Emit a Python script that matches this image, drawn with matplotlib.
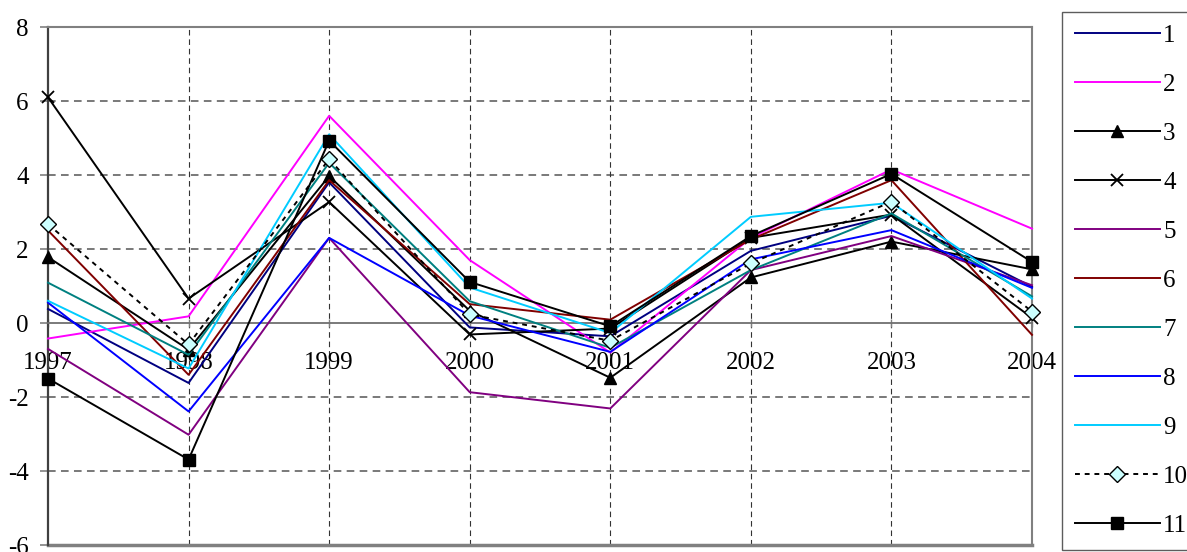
import matplotlib
matplotlib.use("Agg")
import matplotlib.pyplot as plt

# years on the category axis
years = [1997, 1998, 1999, 2000, 2001, 2002, 2003, 2004]

# series values
s1 = [0.38, -1.62, 3.80, -0.12, -0.36, 1.95, 2.90, 0.98]
s2 = [-0.42, 0.18, 5.60, 1.70, -0.80, 2.30, 4.15, 2.55]
s3 = [1.78, -0.72, 3.97, 0.33, -1.48, 1.23, 2.20, 1.45]
s4 = [6.10, 0.66, 3.27, -0.31, -0.15, 2.30, 2.93, 0.14]
s5 = [-0.70, -3.02, 2.30, -1.87, -2.31, 1.43, 2.35, 1.02]
s6 = [2.50, -1.40, 3.86, 0.51, 0.09, 2.26, 3.86, -0.32]
s7 = [1.09, -0.86, 4.33, 0.59, -0.67, 1.43, 2.96, 0.72]
s8 = [0.55, -2.39, 2.30, 0.20, -0.78, 1.72, 2.51, 0.95]
s9 = [0.60, -1.23, 5.10, 0.96, -0.27, 2.87, 3.25, 0.66]
s10 = [2.67, -0.58, 4.43, 0.23, -0.48, 1.61, 3.28, 0.31]
s11 = [-1.50, -3.69, 4.93, 1.11, -0.09, 2.35, 4.03, 1.65]

labels = ["1", "2", "3", "4", "5", "6", "7", "8", "9", "10", "11"]
y_ticks = [8, 6, 4, 2, 0, -2, -4, -6]

plt.rcParams["font.family"] = ["Liberation Serif", "DejaVu Serif"]
plt.rcParams["axes.unicode_minus"] = False

fig = plt.figure(figsize=(11.87, 5.52), dpi=100)
ax = fig.add_axes([48 / 1187, 7 / 552, (1032 - 48) / 1187, (545 - 27) / 552])

# (color, marker, linestyle, marker face)
styles = [
    ("#000080", None, "-", None),
    ("#FF00FF", None, "-", None),
    ("black", "^", "-", "black"),
    ("black", "x", "-", None),
    ("#800080", None, "-", None),
    ("#800000", None, "-", None),
    ("#008080", None, "-", None),
    ("#0000FF", None, "-", None),
    ("#00CCFF", None, "-", None),
    ("black", "D", (0, (2.5, 2.5)), "#CCFFFF"),
    ("black", "s", "-", "black"),
]
series = [s1, s2, s3, s4, s5, s6, s7, s8, s9, s10, s11]

for vals, lab, (col, mk, ls, mfc) in zip(series, labels, styles):
    kw = dict(color=col, lw=1.4, ls=ls, label=lab, zorder=3, clip_on=False)
    if mk is not None:
        kw.update(marker=mk, markersize=9 if mk != "D" else 8,
                  markeredgewidth=1.3 if mk == "x" else 1.0,
                  markerfacecolor=mfc if mfc else col,
                  markeredgecolor="black")
    ax.plot(years, vals, **kw)

ax.set_xlim(1997, 2004)
ax.set_ylim(-6, 8)
ax.set_yticks(y_ticks)
ax.set_xticks(years)

# gridlines
for y in [6, 4, 2, -2, -4]:
    ax.axhline(y, color="#555555", lw=1.1, ls=(0, (5, 3.5)), zorder=1)
for x in years[1:-1]:
    ax.axvline(x, color="#333333", lw=0.8, ls=(0, (5, 3.5)), zorder=1)

for side in ["top", "right"]:
    ax.spines[side].set_color("#808080")
    ax.spines[side].set_linewidth(1.5)
ax.spines["left"].set_color("#404040")
ax.spines["left"].set_linewidth(1.6)
ax.spines["bottom"].set_position(("data", 0))
ax.spines["bottom"].set_color("#707070")
ax.spines["bottom"].set_linewidth(1.3)
ax.axhline(-6, color="#808080", lw=2.5, clip_on=False, zorder=2)

ax.tick_params(axis="y", direction="out", length=6, width=1.2, color="#808080",
               labelsize=18, pad=8)
ax.tick_params(axis="x", direction="inout", length=6, width=1.0, color="#808080",
               labelsize=18, pad=18)

leg = fig.legend(loc="upper left", bbox_to_anchor=(1062 / 1187, 1 - 12 / 552),
                 frameon=True, fontsize=18, handlelength=3.4, handletextpad=0.15,
                 labelspacing=1.06, borderpad=0.5, borderaxespad=0,
                 fancybox=False)
leg.get_frame().set_edgecolor("#333333")
leg.get_frame().set_linewidth(1.0)

fig.savefig("out.png", dpi=100)
